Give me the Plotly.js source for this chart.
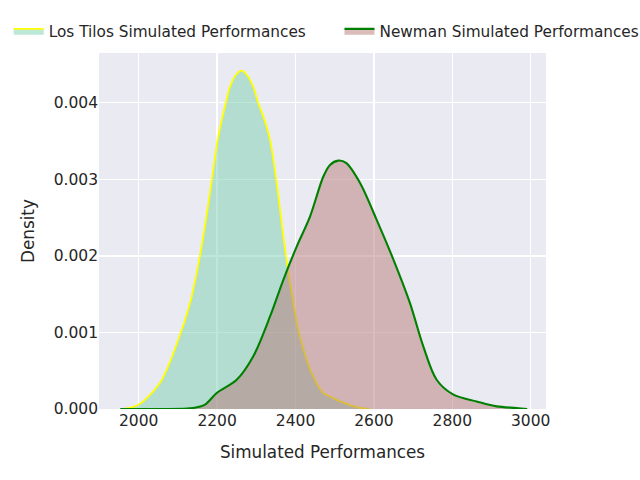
<!DOCTYPE html>
<html>
<head>
<meta charset="utf-8">
<script src="https://cdn.plot.ly/plotly-3.0.1.min.js"></script>
<style>
  html, body { margin: 0; padding: 0; background: #fff; }
  #chart { width: 640px; height: 480px; }
</style>
</head>
<body>
<div id="chart"></div>
<script>
// KDE curves (x = simulated performance, y = density)
const losTilosX = [1961, 1999, 2054, 2101, 2131, 2156, 2178, 2203, 2224, 2233, 2250, 2263, 2276,
  2292, 2305, 2318, 2335, 2352, 2369, 2386, 2411, 2445, 2471, 2488, 2514, 2565, 2590]
const losTilosY = [0, 0.000056, 0.000339, 0.000904, 0.001383, 0.00199, 0.002688, 0.003556, 0.004035,
  0.004209, 0.004375, 0.004418, 0.004361, 0.004209, 0.003992, 0.003817, 0.003513, 0.002948,
  0.002252, 0.001644, 0.000947, 0.000425, 0.000209, 0.000164, 0.000099, 0.000013, 0]

const newmanX = [1953, 2055, 2139, 2169, 2199, 2250, 2292, 2335, 2369, 2403, 2437, 2471, 2488,
  2509, 2529, 2565, 2607, 2650, 2692, 2726, 2760, 2803, 2862, 2913, 2964, 2991]
const newmanY = [0, 0, 0.000013, 0.000056, 0.000209, 0.000382, 0.000686, 0.001208, 0.001687,
  0.002121, 0.002513, 0.003035, 0.003187, 0.003243, 0.003213, 0.002948, 0.00247, 0.001948,
  0.001383, 0.000817, 0.000382, 0.000187, 0.000099, 0.000034, 0.000013, 0]

const seriesNames = ['Los Tilos Simulated Performances', 'Newman Simulated Performances']
const xTicks = [2000, 2200, 2400, 2600, 2800, 3000]
const yTicks = [0, 0.001, 0.002, 0.003, 0.004]

const textColor = '#262626'
const font = "'DejaVu Sans', sans-serif"

let traces = [
  {
    x: losTilosX,
    y: losTilosY,
    name: seriesNames[0],
    type: 'scatter',
    mode: 'lines',
    fill: 'tozeroy',
    fillcolor: 'rgba(124,208,176,0.5)',
    line: { color: '#ffff00', width: 1.8, shape: 'spline', smoothing: 0.9 },
    legend: 'legend',
    hoverinfo: 'x+y',
  },
  {
    x: newmanX,
    y: newmanY,
    name: seriesNames[1],
    type: 'scatter',
    mode: 'lines',
    fill: 'tozeroy',
    fillcolor: 'rgba(184,122,120,0.5)',
    line: { color: '#008000', width: 2.1, shape: 'spline', smoothing: 0.9 },
    legend: 'legend2',
    hoverinfo: 'x+y',
  },
]

//plot area is 99..546 px across, 53..409 px down
let legendFont = { family: font, size: 15.3, color: textColor }
let layout = {
  width: 640,
  height: 480,
  margin: { l: 99, r: 94, t: 53, b: 71, autoexpand: false },
  paper_bgcolor: '#ffffff',
  plot_bgcolor: '#eaeaf2',
  font: { family: font, color: textColor },
  showlegend: true,
  legend: {
    orientation: 'h',
    x: -0.202,
    xanchor: 'left',
    y: 1.062,
    yanchor: 'middle',
    bgcolor: 'rgba(0,0,0,0)',
    font: legendFont,
  },
  legend2: {
    orientation: 'h',
    x: 0.538,
    xanchor: 'left',
    y: 1.062,
    yanchor: 'middle',
    bgcolor: 'rgba(0,0,0,0)',
    font: legendFont,
  },
  xaxis: {
    range: [1898.7, 3039],
    tickvals: xTicks,
    ticktext: xTicks.map(String),
    showgrid: true,
    gridcolor: '#ffffff',
    gridwidth: 1.4,
    zeroline: false,
    showline: false,
    ticks: '',
    automargin: false,
    tickfont: { family: font, size: 15.5, color: textColor },
    title: { text: 'Simulated Performances', font: { family: font, size: 16.8, color: textColor }, standoff: 17 },
  },
  yaxis: {
    range: [0, 0.004648],
    tickvals: yTicks,
    ticktext: yTicks.map(v => v.toFixed(3)),
    showgrid: true,
    gridcolor: '#ffffff',
    gridwidth: 1.4,
    zeroline: false,
    showline: false,
    ticks: '',
    automargin: false,
    tickfont: { family: font, size: 15.5, color: textColor },
    title: { text: 'Density', font: { family: font, size: 16.8, color: textColor }, standoff: 14 },
  },
}

Plotly.newPlot('chart', traces, layout, { displayModeBar: false, staticPlot: true })
</script>
</body>
</html>
